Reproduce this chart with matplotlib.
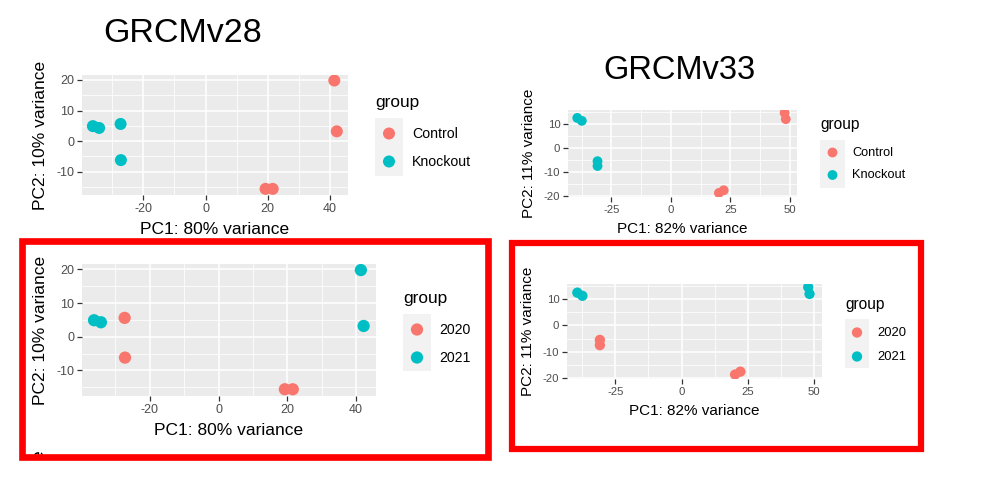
import matplotlib.pyplot as plt
from matplotlib.patches import Rectangle
from matplotlib.ticker import MultipleLocator

plt.rcParams['font.family'] = ['Liberation Sans', 'DejaVu Sans']
plt.rcParams['axes.unicode_minus'] = False

# PCA coordinates, same eight samples in both genome builds
v28_pc1 = [-36.2, -34.2, -27.3, -27.2, 41.4, 42.2, 19.3, 21.6]
v28_pc2 = [4.9, 4.3, 5.6, -6.2, 19.8, 3.2, -15.6, -15.6]
v33_pc1 = [-39.3, -37.4, -30.8, -30.8, 47.8, 48.3, 20.2, 22.2]
v33_pc2 = [12.5, 11.3, -5.5, -7.5, 14.6, 12.0, -18.7, -17.6]
genotype = ['Knockout', 'Knockout', 'Knockout', 'Knockout', 'Control', 'Control', 'Control', 'Control']
year = ['2021', '2021', '2020', '2020', '2021', '2021', '2020', '2020']

geno_levels = ['Control', 'Knockout']
year_levels = ['2020', '2021']
pal = ['#F8766D', '#00BFC4']

W, H = 987, 488
fig = plt.figure(figsize=(W / 100, H / 100), dpi=100)


def panel(x0, y0, x1, y1):
    return fig.add_axes([x0 / W, 1 - y1 / H, (x1 - x0) / W, (y1 - y0) / H])


def gg_scatter(ax, px, py, grp, levels, xlim, ylim, xstep, ystep, xlab, ylab, s, tfs, lfs):
    ax.set_facecolor('#EBEBEB')
    cols = [pal[levels.index(g)] for g in grp]
    ax.scatter(px, py, c=cols, s=s, linewidths=0, zorder=3)
    ax.set_xlim(*xlim)
    ax.set_ylim(*ylim)
    ax.xaxis.set_major_locator(MultipleLocator(xstep))
    ax.xaxis.set_minor_locator(MultipleLocator(xstep / 2))
    ax.yaxis.set_major_locator(MultipleLocator(ystep))
    ax.yaxis.set_minor_locator(MultipleLocator(ystep / 2))
    ax.grid(True, which='major', color='white', lw=1.1)
    ax.grid(True, which='minor', color='white', lw=0.55)
    ax.set_axisbelow(True)
    for sp in ax.spines.values():
        sp.set_visible(False)
    ax.tick_params(which='major', length=3.5, width=0.9, color='#333333',
                   labelcolor='#4D4D4D', labelsize=tfs, pad=2)
    ax.tick_params(which='minor', length=0)
    ax.set_xlabel(xlab, fontsize=lfs, labelpad=5)
    ax.set_ylabel(ylab, fontsize=lfs, labelpad=6)


ax1 = panel(82, 75, 348, 195)
gg_scatter(ax1, v28_pc1, v28_pc2, genotype, geno_levels, (-39.7, 45.8), (-17.6, 21.6), 20, 10,
           'PC1: 80% variance', 'PC2: 10% variance', 75, 9, 12.5)
ax2 = panel(568, 110, 797, 197)
gg_scatter(ax2, v33_pc1, v33_pc2, genotype, geno_levels, (-43.2, 53), (-20.4, 15.8), 25, 10,
           'PC1: 82% variance', 'PC2: 11% variance', 50, 8.2, 11)
ax3 = panel(82, 264, 376, 396)
gg_scatter(ax3, v28_pc1, v28_pc2, year, year_levels, (-39.7, 45.8), (-17.6, 21.6), 20, 10,
           'PC1: 80% variance', 'PC2: 10% variance', 78, 9, 12.5)
ax4 = panel(567, 284, 822, 379)
gg_scatter(ax4, v33_pc1, v33_pc2, year, year_levels, (-43.2, 53), (-20.4, 15.8), 25, 10,
           'PC1: 82% variance', 'PC2: 11% variance', 55, 8.2, 11)

# overlay in pixel coordinates for titles, legends and frames
ov = fig.add_axes([0, 0, 1, 1], zorder=10)
ov.set_xlim(0, W)
ov.set_ylim(H, 0)
ov.axis('off')
ov.patch.set_alpha(0)


def legend(x, ytitle, ybox0, ybox1, boxw, keys_y, levels, s, tfs, kfs, dxlab):
    ov.text(x, ytitle, 'group', fontsize=tfs, va='center', ha='left')
    ov.add_patch(Rectangle((x, ybox0), boxw, ybox1 - ybox0, color='#F2F2F2', lw=0))
    ov.scatter([x + boxw / 2] * len(levels), keys_y, c=pal[:len(levels)], s=s, linewidths=0)
    for lab, ky in zip(levels, keys_y):
        ov.text(x + dxlab, ky, lab, fontsize=kfs, va='center', ha='left')


legend(375, 103, 118, 176, 28, [133.5, 161.5], geno_levels, 75, 12.4, 10.2, 37)
legend(820, 125, 140, 188, 25, [152.5, 175], geno_levels, 50, 11.2, 9.2, 32)
legend(403, 298, 314, 371, 28, [329.5, 357.5], year_levels, 78, 12.4, 10.2, 36)
legend(845, 305, 319, 368, 24, [332.5, 356.5], year_levels, 55, 11.2, 9.4, 32)

ov.text(103, 42, 'GRCMv28', fontsize=24.5, ha='left', va='baseline')
ov.text(603, 79, 'GRCMv33', fontsize=23.5, ha='left', va='baseline')

# clipped fragment of a label peeking above the frame
ov.text(39, 455, 'e', fontsize=12.5, rotation=90, ha='center', va='center')
ov.add_patch(Rectangle((20, 460), 60, 28, color='white', lw=0, zorder=5))

ov.add_patch(Rectangle((22.3, 241), 465.2, 215.7, fill=False, ec='#FF0000', lw=4.8, zorder=6))
ov.add_patch(Rectangle((512, 243.3), 408.7, 205.4, fill=False, ec='#FF0000', lw=4.5, zorder=6))

fig.savefig('out.png', dpi=100)
